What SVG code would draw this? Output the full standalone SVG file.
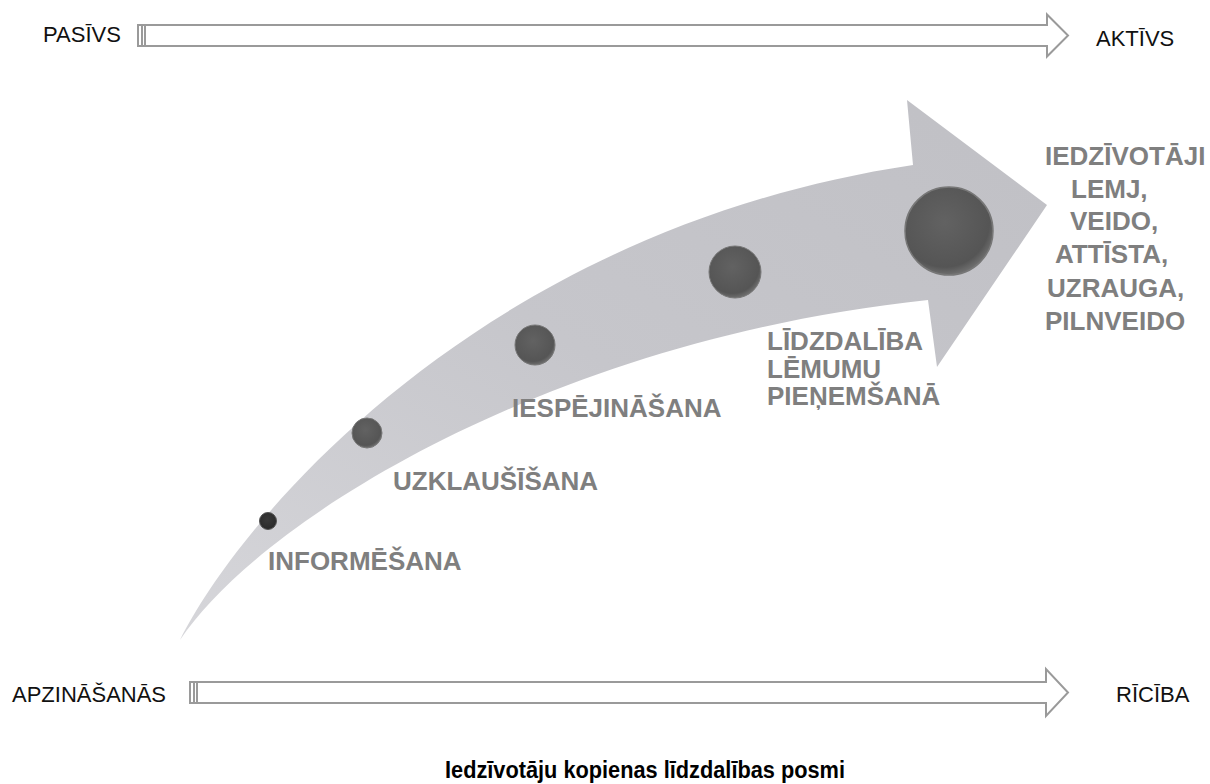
<svg xmlns="http://www.w3.org/2000/svg" width="1210" height="784" viewBox="0 0 1210 784">
<style>
.lbl{font-family:"Liberation Sans",Arial,sans-serif;font-size:22px;fill:#111}
.stage{font-family:"Liberation Sans",Arial,sans-serif;font-size:26px;font-weight:bold;fill:#7f7f7f}
.cap{font-family:"Liberation Sans",Arial,sans-serif;font-size:23px;font-weight:bold;fill:#000}
.bar{fill:#fff;stroke:#9a9a9a;stroke-width:2}
.tick{stroke:#9a9a9a;stroke-width:2}
</style>
<defs>
<linearGradient id="bandG" x1="0" y1="1" x2="1" y2="0">
<stop offset="0" stop-color="#d6d6da"/>
<stop offset="0.5" stop-color="#c6c6cb"/>
<stop offset="1" stop-color="#c0c0c5"/>
</linearGradient>
<radialGradient id="dotG" cx="0.45" cy="0.4" r="0.6">
<stop offset="0" stop-color="#626262"/>
<stop offset="0.85" stop-color="#555"/>
<stop offset="1" stop-color="#6e6e6e"/>
</radialGradient>
<radialGradient id="dotD" cx="0.45" cy="0.4" r="0.6">
<stop offset="0" stop-color="#3a3a3a"/>
<stop offset="1" stop-color="#2a2a2a"/>
</radialGradient>
</defs>

<g id="scale-top">
<path class="bar" d="M138,25 H1047 V14.5 L1068,35.5 L1047,56.5 V46 H138 Z"/>
<line class="tick" x1="142" y1="25" x2="142" y2="46"/>
<line class="tick" x1="145" y1="25" x2="145" y2="46"/>
<text class="lbl" x="43" y="42">PASĪVS</text>
<text class="lbl" x="1096" y="46">AKTĪVS</text>
</g>

<g id="scale-bottom">
<path class="bar" d="M190,682 H1046 V669 L1068,692.5 L1046,716 V703 H190 Z"/>
<line class="tick" x1="194" y1="682" x2="194" y2="703"/>
<line class="tick" x1="197" y1="682" x2="197" y2="703"/>
<text class="lbl" x="12" y="702">APZINĀŠANĀS</text>
<text class="lbl" x="1116" y="702">RĪCĪBA</text>
</g>

<g id="connectors">
<path id="big-arrow" fill="url(#bandG)" d="M180,640 C240,520 480,230 913,165 L907,100 L1047,205 L937,367 L928,300 C550,340 260,520 180,640 Z"/>
</g>

<g id="node-informesana">
<circle cx="268" cy="521" r="8.5" fill="url(#dotD)" stroke="#555" stroke-width="1"/>
<text class="stage" x="268" y="570">INFORMĒŠANA</text>
</g>
<g id="node-uzklausisana">
<circle cx="367" cy="433" r="15" fill="url(#dotG)" stroke="#777" stroke-width="1"/>
<text class="stage" x="393" y="490">UZKLAUŠĪŠANA</text>
</g>
<g id="node-iespejinasana">
<circle cx="535" cy="345" r="20" fill="url(#dotG)" stroke="#777" stroke-width="1"/>
<text class="stage" x="512" y="417">IESPĒJINĀŠANA</text>
</g>
<g id="node-lidzdaliba">
<circle cx="735" cy="272" r="26" fill="url(#dotG)" stroke="#777" stroke-width="1"/>
<text class="stage" x="767" y="350">LĪDZDALĪBA</text>
<text class="stage" x="767" y="378">LĒMUMU</text>
<text class="stage" x="767" y="405">PIEŅEMŠANĀ</text>
</g>
<g id="node-iedzivotaji">
<circle cx="949" cy="231" r="44" fill="url(#dotG)" stroke="#777" stroke-width="1.5"/>
<text class="stage" x="1045" y="165">IEDZĪVOTĀJI</text>
<text class="stage" x="1071" y="198">LEMJ,</text>
<text class="stage" x="1070" y="230">VEIDO,</text>
<text class="stage" x="1055" y="263">ATTĪSTA,</text>
<text class="stage" x="1047" y="297">UZRAUGA,</text>
<text class="stage" x="1045" y="330">PILNVEIDO</text>
</g>

<text class="cap" x="445" y="778" textLength="400" lengthAdjust="spacingAndGlyphs">Iedzīvotāju kopienas līdzdalības posmi</text>
</svg>
